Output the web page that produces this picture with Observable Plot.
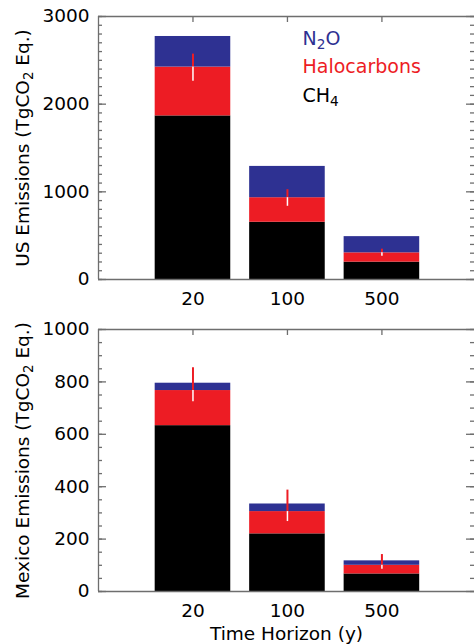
<!DOCTYPE html>
<html><head><meta charset="utf-8">
<script src="https://cdn.jsdelivr.net/npm/d3@7"></script>
<script src="https://cdn.jsdelivr.net/npm/@observablehq/plot@0.6"></script>
<style>body{margin:0;background:#fff} #chart svg{display:block;overflow:visible}</style>
</head><body><div id="chart"></div>
<script>
const horizons = ["20", "100", "500"];
const gases = ["CH₄", "Halocarbons", "N₂O"];
const gasColors = ["#000000", "#ed1c24", "#2e3192"];

const usCH4 = [1866, 653, 198];
const usHalo = [557, 280, 106];
const usN2O = [349, 357, 185];
const usErrLow = [2260, 835, 266];
const usErrHigh = [2571, 1024, 346];

const mxCH4 = [633, 220, 67];
const mxHalo = [134, 85, 33];
const mxN2O = [28, 29, 17];
const mxErrLow = [724, 267, 85];
const mxErrHigh = [854, 387, 141];

const usMajor = [0, 1000, 2000, 3000];
const mxMajor = [0, 200, 400, 600, 800, 1000];

const FONT = "DejaVu Sans";
const W = 474, ML = 98, XMAX = 3.98;

function panel({ch4, halo, n2o, lo, hi, yMax, major, minorStep, ylabel, xlabel, height, marginTop, marginBottom, legend}) {
  const rows = [];
  const errs = [];
  horizons.forEach((h, i) => {
    const vals = [ch4[i], halo[i], n2o[i]];
    let acc = 0;
    vals.forEach((v, k) => {
      rows.push({pos: i + 1, gas: gases[k], y1: acc, y2: acc + v});
      acc += v;
    });
    errs.push({pos: i + 1, lo: lo[i], hi: hi[i], mid: ch4[i] + halo[i]});
  });
  const minor = d3.range(0, yMax + 1, minorStep);
  const gray = "#6e6e6e";
  const pxX = XMAX / (W - ML);
  const pxY = yMax / (height - marginTop - marginBottom);
  const tickRows = (vals, len, side) => vals.map(v => ({
    v, a: side === "left" ? 0 : XMAX - len * pxX, b: side === "left" ? len * pxX : XMAX
  }));
  const yTicks = [
    ...tickRows(minor, 4, "left"), ...tickRows(major, 8, "left"),
    ...tickRows(minor, 4, "right"), ...tickRows(major, 8, "right")
  ];
  const xTicks = [1, 2, 3].map(p => ({p, a: yMax, b: yMax - 6 * pxY}));
  const marks = [
    Plot.rect(rows, {x1: d => d.pos - 0.4, x2: d => d.pos + 0.4, y1: "y1", y2: "y2", fill: "gas"}),
    Plot.ruleX(errs, {x: "pos", y1: "mid", y2: "hi", stroke: "#ed1c24", strokeWidth: 2}),
    Plot.ruleX(errs, {x: "pos", y1: "lo", y2: "mid", stroke: "#ffffff", strokeWidth: 1.5}),
    Plot.ruleY(yTicks, {y: "v", x1: "a", x2: "b", stroke: gray, strokeWidth: 1.3}),
    Plot.ruleX(xTicks, {x: "p", y1: "a", y2: "b", stroke: gray, strokeWidth: 1.3}),
    Plot.ruleY([0, yMax], {stroke: gray, strokeWidth: 1.3}),
    Plot.ruleX([0], {stroke: gray, strokeWidth: 1.3}),
    Plot.axisY({anchor: "left", ticks: major, tickSize: 0, tickPadding: 9, fontSize: 18.5,
      tickFormat: d => String(d),
      label: ylabel, labelAnchor: "center", labelOffset: 83, labelArrow: "none"}),
    Plot.axisX({anchor: "bottom", ticks: [1, 2, 3], tickSize: 0, tickPadding: 12, fontSize: 18.5,
      tickFormat: d => horizons[d - 1], label: xlabel, labelAnchor: "center", labelOffset: 48, labelArrow: "none"})
  ];
  if (legend) {
    const items = [...gases].reverse();
    const cols = [...gasColors].reverse();
    items.forEach((g, j) => {
      marks.push(Plot.text([g], {text: d => d, frameAnchor: "top-left", dx: 204, dy: 22 + j * 28.5,
        fill: cols[j], fontSize: 19, textAnchor: "start", lineAnchor: "middle",
        style: "letter-spacing:1.3px"}));
    });
  }
  const svg = Plot.plot({
    width: W,
    height,
    marginLeft: ML,
    marginRight: 0,
    marginTop,
    marginBottom,
    style: {fontFamily: FONT, fontSize: "18px", color: "#000", background: "#fff"},
    x: {domain: [0, XMAX]},
    y: {domain: [0, yMax]},
    color: {domain: gases, range: gasColors},
    marks
  });
  const subMap = {"₂": "2", "₄": "4"};
  svg.querySelectorAll("text, tspan").forEach(t => {
    if (t.children.length) return;
    const s = t.textContent;
    if (!/[₂₄]/.test(s)) return;
    t.textContent = "";
    let buf = "";
    let back = null;
    for (const ch of s) {
      if (subMap[ch]) {
        if (buf) { t.append(buf); buf = ""; }
        const ts = document.createElementNS("http://www.w3.org/2000/svg", "tspan");
        ts.setAttribute("font-size", "72%");
        ts.setAttribute("dy", "0.3em");
        ts.textContent = subMap[ch];
        t.append(ts);
        back = document.createElementNS("http://www.w3.org/2000/svg", "tspan");
        back.setAttribute("dy", "-0.216em");
        t.appendChild(back);
      } else if (back) {
        back.textContent += ch;
      } else {
        buf += ch;
      }
    }
    if (buf) t.append(buf);
  });
  return svg;
}

const usChart = panel({ch4: usCH4, halo: usHalo, n2o: usN2O, lo: usErrLow, hi: usErrHigh,
  yMax: 3000, major: usMajor, minorStep: 100, ylabel: "US Emissions (TgCO₂ Eq.)", xlabel: null,
  height: 318, marginTop: 16, marginBottom: 39, legend: true});
const mxChart = panel({ch4: mxCH4, halo: mxHalo, n2o: mxN2O, lo: mxErrLow, hi: mxErrHigh,
  yMax: 1000, major: mxMajor, minorStep: 50, ylabel: "Mexico Emissions (TgCO₂ Eq.)", xlabel: "Time Horizon (y)",
  height: 326, marginTop: 11, marginBottom: 53, legend: false});
document.getElementById("chart").append(usChart, mxChart);
</script>
</body></html>
